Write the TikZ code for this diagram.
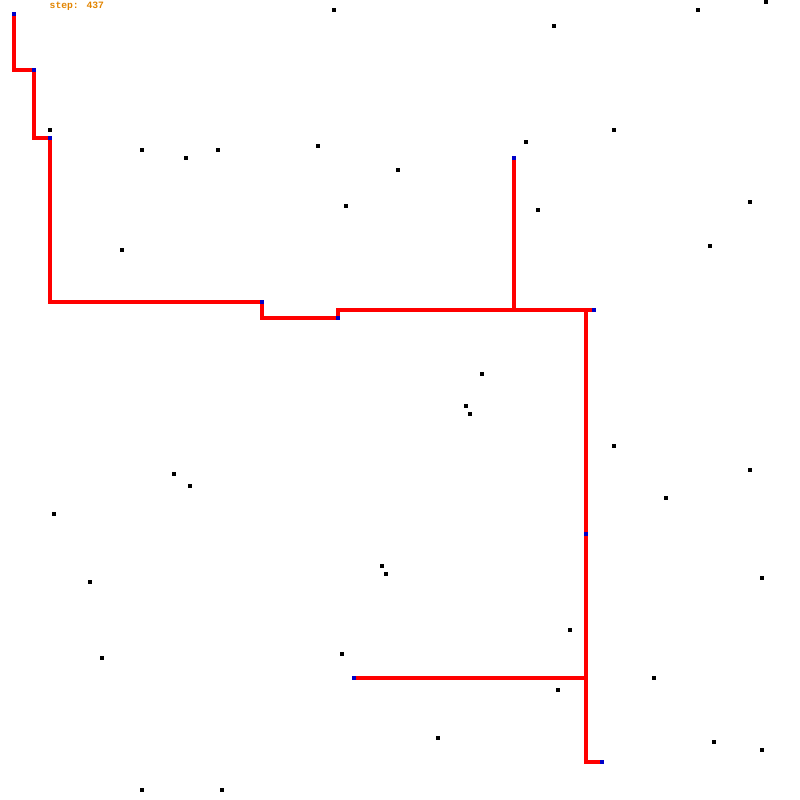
\documentclass[tikz,border=0pt]{standalone}
\usepackage{fontspec}
\usepackage{xcolor}
\usepackage{tikz}
\usetikzlibrary{backgrounds}
\newfontfamily\stepfont{Liberation Mono}
\definecolor{steporange}{RGB}{226,132,0}
\definecolor{markblue}{RGB}{0,0,200}

\begin{document}
\begin{tikzpicture}[x=1pt,y=-1pt,
  marker/.style={fill=markblue,inner sep=0pt,minimum size=4pt,draw=none},
  wire/.style={red,line width=4pt,line join=miter}]
\useasboundingbox (0,0) rectangle (800,800);
\node[anchor=base west,inner sep=0pt,text=steporange,font=\stepfont\bfseries\fontsize{9.7}{10}\selectfont] (label) at (49.5,9) {step: 437};
% obstacles
\foreach \x/\y in {334/10,554/26,698/10,766/2,50/130,142/150,186/158,218/150,318/146,398/170,526/142,614/130,346/206,538/210,750/202,122/250,710/246,482/374,466/406,470/414,614/446,174/474,190/486,750/470,666/498,54/514,382/566,386/574,90/582,762/578,570/630,102/658,342/654,654/678,558/690,438/738,714/742,762/750,142/790,222/790}{\fill[black] (\x-2,\y-2) rectangle (\x+2,\y+2);}
% markers
\node[marker] (s0) at (14,14) {}; \node[marker] (s1) at (34,70) {}; \node[marker] (s2) at (50,138) {};
\node[marker] (s3) at (262,302) {}; \node[marker] (s4) at (338,318) {}; \node[marker] (s5) at (594,310) {};
\node[marker] (t0) at (514,158) {}; \node[marker] (m0) at (586,534) {}; \node[marker] (s6) at (602,762) {};
\node[marker] (u0) at (354,678) {};
\coordinate (j0) at (586,310);
% tree
\begin{scope}[on background layer]
\draw[wire] (s0.center) |- (s1.center) |- (s2.center) |- (s3.center) |- (s4.center) |- (s5.center);
\draw[wire] (t0.center) -- (t0.center |- j0);
\draw[wire] (j0) |- (s6.center);
\draw[wire] (u0.center) -- (u0.center -| m0);
\end{scope}
\end{tikzpicture}
\end{document}
